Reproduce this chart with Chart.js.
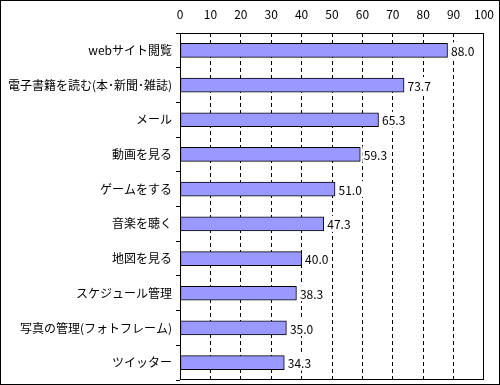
<!DOCTYPE html>
<html><head><meta charset="utf-8">
<script src="https://cdn.jsdelivr.net/npm/chart.js@4"></script>
<style>html,body{margin:0;padding:0;background:#fff}#wrap{width:500px;height:385px}</style>
</head><body><div id="wrap"><canvas id="c" width="500" height="385"></canvas></div>
<script>
const categories = ["webサイト閲覧","電子書籍を読む(本･新聞･雑誌)","メール","動画を見る","ゲームをする","音楽を聴く","地図を見る","スケジュール管理","写真の管理(フォトフレーム)","ツイッター"];
const values = [88.0,73.7,65.3,59.3,51.0,47.3,40.0,38.3,35.0,34.3];
const xTicks = [0,10,20,30,40,50,60,70,80,90,100];

const FONT = '"Noto Sans CJK JP", "Liberation Sans", sans-serif';

const decor = {
  id:'decor',
  afterDraw(chart){
    const ctx = chart.ctx, a = chart.chartArea;
    ctx.save();
    ctx.strokeStyle = '#000'; ctx.lineWidth = 1; ctx.setLineDash([]);
    ctx.strokeRect(Math.round(a.left)+0.5, Math.round(a.top)+0.5, Math.round(a.right-a.left)-1, Math.round(a.bottom-a.top)-1);
    ctx.strokeRect(0.5,0.5,499,384);
    const meta = chart.getDatasetMeta(0);
    ctx.font = '12px ' + FONT;
    ctx.textBaseline = 'middle'; ctx.textAlign = 'left';
    meta.data.forEach((bar,i)=>{
      const t = values[i].toFixed(1);
      const w = ctx.measureText(t).width;
      ctx.fillStyle = '#fff';
      ctx.fillRect(bar.x + 2, bar.y - 8, w + 3, 16);
      ctx.fillStyle = '#000';
      ctx.fillText(t, bar.x + 3.5, bar.y + 1);
    });
    ctx.restore();
  }
};

new Chart(document.getElementById('c'), {
  type:'bar',
  data:{ labels: categories, datasets:[{ data: values, backgroundColor:'#9999FF', borderColor:'#000', borderWidth:1, borderSkipped:false, barThickness:14 }]},
  options:{
    indexAxis:'y', responsive:false, animation:false,
    layout:{ padding:{ left:0, right:16, top:0, bottom:5 } },
    plugins:{ legend:{display:false}, tooltip:{enabled:false} },
    scales:{
      x:{ position:'top', min:0, max:100,
        afterBuildTicks(s){ s.ticks = xTicks.map(v=>({value:v})); },
        afterFit(s){ s.height = 33; s.paddingLeft = 0; s.paddingRight = 0; },
        border:{ display:false, dash:[4,3] },
        grid:{ drawTicks:false, color:(c)=> (c.tick && (c.tick.value===0||c.tick.value===100)) ? 'rgba(0,0,0,0)' : '#000', lineWidth:1 },
        ticks:{ padding:11, color:'#000', font:{ family:FONT, size:12 } }
      },
      y:{
        afterFit(s){ s.width = 180; s.paddingTop = 0; s.paddingBottom = 0; },
        border:{ display:false },
        grid:{ offset:true, drawOnChartArea:false, drawTicks:true, tickLength:4, color:'#000' },
        ticks:{ padding:4, color:'#000', font:{ family:FONT, size:12 } }
      }
    }
  },
  plugins:[decor]
});
</script></body></html>
